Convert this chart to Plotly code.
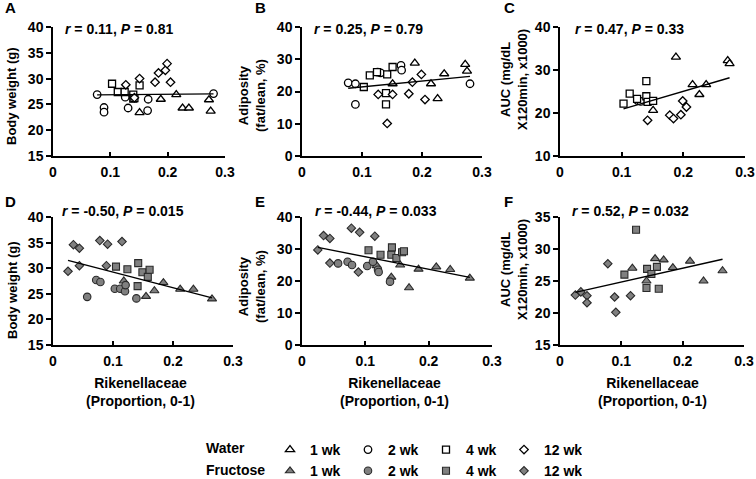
import numpy as np
import plotly.graph_objects as go

# ---------------- data ----------------
# Rikenellaceae proportion per mouse, water groups
x_w1 = [0.151, 0.188, 0.215, 0.226, 0.237, 0.272, 0.275]
x_w2 = [0.077, 0.089, 0.089, 0.126, 0.131, 0.165, 0.166, 0.280]
x_w4 = [0.103, 0.113, 0.125, 0.140, 0.140, 0.142, 0.151]
x_w12 = [0.127, 0.142, 0.151, 0.178, 0.184, 0.196, 0.199, 0.205]
# fructose groups
x_f1 = [0.118, 0.141, 0.155, 0.169, 0.184, 0.212, 0.234, 0.265]
x_f2 = [0.057, 0.072, 0.079, 0.103, 0.112, 0.120, 0.121, 0.139]
x_f4 = [0.105, 0.124, 0.141, 0.142, 0.149, 0.158, 0.161]
x_f12 = [0.025, 0.034, 0.044, 0.044, 0.078, 0.089, 0.091, 0.115]

# A: body weight (g), water
A_w1 = [23.4, 26.0, 26.9, 24.3, 24.3, 25.9, 23.7]
A_w2 = [26.9, 24.4, 23.5, 26.4, 24.3, 23.8, 26.0, 27.1]
A_w4 = [29.0, 27.4, 27.4, 26.9, 26.1, 26.2, 28.7]
A_w12 = [28.8, 26.3, 30.0, 29.3, 31.1, 31.6, 32.9, 29.3]
# B: adiposity (fat/lean, %), water
B_w1 = [22.4, 28.8, 22.4, 17.8, 25.5, 28.4, 26.3]
B_w2 = [22.7, 22.4, 16.0, 26.0, 25.8, 28.1, 26.6, 22.4]
B_w4 = [21.4, 25.0, 26.0, 16.0, 19.5, 25.3, 27.6]
B_w12 = [19.1, 10.1, 19.1, 19.3, 22.9, None, 25.3, 17.5]
# C: AUC, water
C_w1 = [20.6, 33.0, 26.6, 24.3, 26.6, 32.2, 31.5]
C_w2 = [None, None, None, 22.9, 22.7, None, None, None]
C_w4 = [22.2, 24.5, 23.3, 27.4, 23.9, 22.6, 22.8]
C_w12 = [None, 18.3, None, 19.5, 18.7, 19.6, 22.8, 21.4]
# D: body weight (g), fructose
D_f1 = [27.5, None, 24.5, 25.6, 27.2, 25.9, 25.9, 24.0]
D_f2 = [24.4, 27.7, 27.3, 26.0, 26.0, 25.5, 26.7, 24.1]
D_f4 = [30.3, 29.8, 26.5, 31.0, 29.2, 28.3, 29.7]
D_f12 = [29.4, 34.6, 33.9, 30.5, 35.4, 30.5, 34.7, 35.2]
# E: adiposity, fructose
E_f1 = [24.8, 21.2, 25.0, 17.9, 23.7, 24.4, 23.6, 20.9]
E_f2 = [25.5, 26.0, 25.0, 24.7, 26.0, 23.5, 22.8, 19.8]
E_f4 = [29.6, 28.2, 28.2, 30.5, 27.2, 29.0, 29.3]
E_f12 = [29.7, 34.2, 33.3, 25.6, 36.5, 22.8, 35.2, 34.0]
# F: AUC, fructose
F_f1 = [27.0, 25.0, 28.5, 28.3, 27.1, 28.1, 25.0, 26.6]
F_f4 = [26.0, 33.0, 23.9, 26.9, 26.1, 27.2, 23.8]
F_f12 = [22.8, 23.3, 22.7, 21.6, 27.7, 22.5, 20.1, 22.7]

stats_text = ["r = 0.11, P = 0.81", "r = 0.25, P = 0.79", "r = 0.47, P = 0.33",
              "r = -0.50, P = 0.015", "r = -0.44, P = 0.033", "r = 0.52, P = 0.032"]
panel_letters = ["A", "B", "C", "D", "E", "F"]
y_titles = ["Body weight (g)", "Adiposity<br>(fat/lean, %)", "AUC (mg/dL<br>X120min, x1000)"]
x_title = "Rikenellaceae<br>(Proportion, 0-1)"
x_ticks = [0, 0.1, 0.2, 0.3]
x_tick_labels = ["0", "0.1", "0.2", "0.3"]
weeks = ["1 wk", "2 wk", "4 wk", "12 wk"]
treatments = ["Water", "Fructose"]

W, H = 756, 479


def px(v):
    return v / W


def py(v):
    return 1 - v / H


symbols = ["triangle-up", "circle", "square", "diamond"]
sizes = [8, 7.5, 7, 6.5]

panels = [
    dict(xs=[x_w1, x_w2, x_w4, x_w12], ys=[A_w1, A_w2, A_w4, A_w12], water=True,
         yr=[15, 40], dt=5, xd=(53, 225), yd=(27, 156)),
    dict(xs=[x_w1, x_w2, x_w4, x_w12], ys=[B_w1, B_w2, B_w4, B_w12], water=True,
         yr=[0, 40], dt=10, xd=(302, 482), yd=(27, 156)),
    dict(xs=[x_w1, x_w2, x_w4, x_w12], ys=[C_w1, C_w2, C_w4, C_w12], water=True,
         yr=[10, 40], dt=10, xd=(560, 745), yd=(27, 156)),
    dict(xs=[x_f1, x_f2, x_f4, x_f12], ys=[D_f1, D_f2, D_f4, D_f12], water=False,
         yr=[15, 40], dt=5, xd=(53, 233), yd=(217, 345)),
    dict(xs=[x_f1, x_f2, x_f4, x_f12], ys=[E_f1, E_f2, E_f4, E_f12], water=False,
         yr=[0, 40], dt=10, xd=(302, 492), yd=(217, 345)),
    dict(xs=[x_f1, None, x_f4, x_f12], ys=[F_f1, None, F_f4, F_f12], water=False,
         yr=[15, 35], dt=5, xd=(560, 744), yd=(217, 345)),
]

fig = go.Figure()
legend_done = set()
bold = dict(family="Liberation Sans, Arial, sans-serif", size=14, color="black", weight="bold")

for i, p in enumerate(panels):
    n = i + 1
    xa = "x" if n == 1 else f"x{n}"
    ya = "y" if n == 1 else f"y{n}"
    allx, ally = [], []
    for g in range(4):
        if p["xs"][g] is None:
            continue
        pts = [(a, b) for a, b in zip(p["xs"][g], p["ys"][g]) if b is not None]
        if not pts:
            continue
        gx = [a for a, _ in pts]
        gy = [b for _, b in pts]
        allx += gx
        ally += gy
        key = (p["water"], g)
        show = key not in legend_done
        legend_done.add(key)
        if p["water"]:
            mk = dict(symbol=symbols[g], size=sizes[g], color="white",
                      line=dict(color="black", width=1.3))
        else:
            mk = dict(symbol=symbols[g], size=sizes[g], color="#808080",
                      line=dict(color="#2a2a2a", width=1.1))
        fig.add_trace(go.Scatter(x=gx, y=gy, mode="markers", marker=mk,
                                 xaxis=xa, yaxis=ya, name=weeks[g],
                                 legendgroup=weeks[g], showlegend=show,
                                 cliponaxis=False, hoverinfo="x+y"))
    # least squares trend line
    k, b0 = np.polyfit(allx, ally, 1)
    lx = np.array([min(allx), max(allx)])
    fig.add_trace(go.Scatter(x=lx, y=k * lx + b0, mode="lines",
                             line=dict(color="black", width=1.4),
                             xaxis=xa, yaxis=ya, showlegend=False, hoverinfo="skip"))

    axx = dict(domain=[px(p["xd"][0]), px(p["xd"][1])], range=[0, 0.3],
               tickvals=x_ticks, ticktext=x_tick_labels, showgrid=False, zeroline=False,
               showline=True, linecolor="black", linewidth=1.5, ticks="inside",
               ticklen=4, tickwidth=1.5, tickcolor="black", tickfont=bold,
               ticklabelstandoff=2, anchor=ya, fixedrange=True)
    axy = dict(domain=[py(p["yd"][1]), py(p["yd"][0])], range=p["yr"], dtick=p["dt"],
               tick0=0, showgrid=False, zeroline=False, showline=True, linecolor="black",
               linewidth=1.5, ticks="outside", ticklen=5, tickwidth=1.5, tickcolor="black",
               tickfont=bold, anchor=xa, fixedrange=True)
    fig.update_layout(**{("xaxis" if n == 1 else f"xaxis{n}"): axx,
                         ("yaxis" if n == 1 else f"yaxis{n}"): axy})

# empty spacer entry so that the last legend label is not clipped
fig.add_trace(go.Scatter(x=[], y=[], mode="markers", name=" ", legendgroup="zz",
                         marker=dict(opacity=0), showlegend=True, hoverinfo="skip"))

ann = []
stat_pos = [(63, 29), (312, 29), (573, 29), (60, 211), (313, 211), (570, 211)]
letter_pos = [(3, 8), (253, 8), (502, 8), (3, 201), (253, 201), (502, 201)]
for i in range(6):
    t = stats_text[i].replace("r =", "<i>r</i> =").replace("P =", "<i>P</i> =")
    ann.append(dict(text=t, x=px(stat_pos[i][0]), y=py(stat_pos[i][1]), xref="paper",
                    yref="paper", xanchor="left", yanchor="middle", showarrow=False,
                    font=dict(family="Liberation Sans, Arial", size=14, color="black",
                              weight="bold")))
    ann.append(dict(text=panel_letters[i], x=px(letter_pos[i][0]), y=py(letter_pos[i][1]),
                    xref="paper", yref="paper", xanchor="left", yanchor="middle",
                    showarrow=False,
                    font=dict(family="Liberation Sans, Arial", size=15, color="black",
                              weight="bold")))
ytitle_pos = [(12, 96), (252, 96), (514, 80), (12, 290), (252, 287), (514, 270)]
for i in range(6):
    ann.append(dict(text=y_titles[i % 3], x=px(ytitle_pos[i][0]), y=py(ytitle_pos[i][1]),
                    xref="paper", yref="paper", xanchor="center", yanchor="middle",
                    textangle=-90, showarrow=False,
                    font=dict(family="Liberation Sans, Arial", size=13, color="black",
                              weight="bold")))
for cx in [140, 395, 652]:
    ann.append(dict(text=x_title, x=px(cx), y=py(392), xref="paper", yref="paper",
                    xanchor="center", yanchor="middle", showarrow=False,
                    font=dict(family="Liberation Sans, Arial", size=14, color="black",
                              weight="bold")))
for j, lab in enumerate(treatments):
    ann.append(dict(text=lab, x=px(204), y=py(448 + 22 * j), xref="paper", yref="paper",
                    xanchor="left", yanchor="middle", showarrow=False,
                    font=dict(family="Liberation Sans, Arial", size=14, color="black",
                              weight="bold")))

fig.update_layout(
    width=W, height=H, margin=dict(l=0, r=0, t=0, b=0, pad=0, autoexpand=False),
    paper_bgcolor="white", plot_bgcolor="white",
    font=dict(family="Liberation Sans, Arial, sans-serif", color="black"),
    annotations=ann,
    legend=dict(orientation="h", traceorder="grouped", x=px(270), xanchor="left",
                y=py(434), yanchor="top", entrywidth=33, entrywidthmode="pixels",
                font=dict(family="Liberation Sans, Arial", size=14, color="black",
                          weight="bold"), bgcolor="rgba(0,0,0,0)"),
)

fig.write_html("out.html", config={"displayModeBar": False},
               post_script="document.body.style.margin='0';document.body.style.overflow='hidden';")
